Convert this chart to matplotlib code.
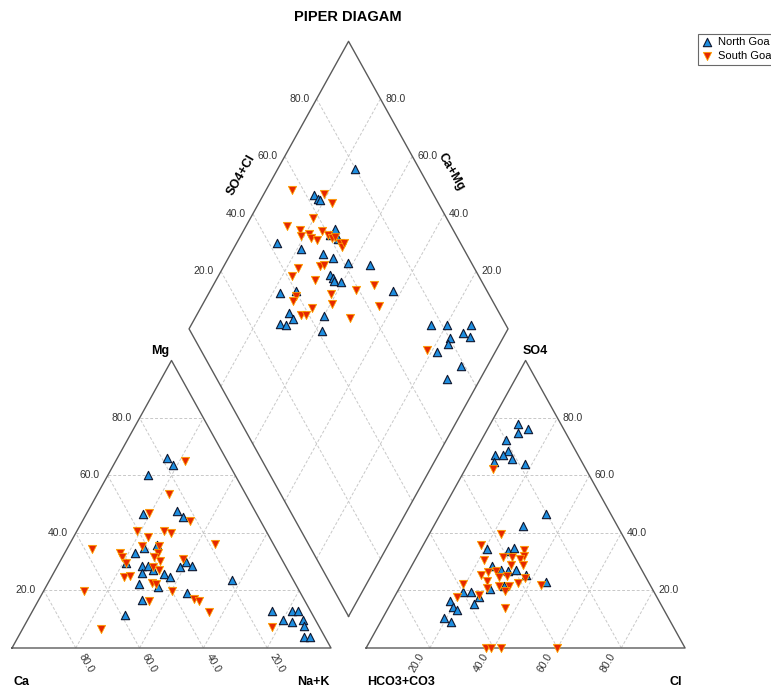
import numpy as np
import matplotlib.pyplot as plt

plt.rcParams['font.family'] = ['Liberation Sans', 'DejaVu Sans']

# cation triangle, % (Ca = 100 - Mg - Na+K)
north_mg = [66.0, 63.7, 60.3, 46.6, 47.7, 45.7, 32.9, 34.8, 35.7, 29.5, 28.5, 28.4, 27.1, 26.1, 25.8, 24.8, 28.1,
            29.9, 28.6, 22.2, 21.3, 16.6, 19.0, 11.5, 23.5, 12.9, 9.7, 12.8, 12.9, 9.0, 9.7, 7.8, 3.8, 3.8]
north_nak = [15.7, 18.7, 12.5, 17.8, 28.0, 30.9, 22.2, 24.0, 27.7, 21.1, 26.6, 28.5, 30.6, 27.6, 34.7, 37.1, 38.5,
             39.6, 42.2, 28.7, 35.2, 32.6, 45.4, 29.8, 57.2, 75.2, 80.1, 81.5, 83.3, 83.3, 86.3, 87.7, 89.6, 91.6]
south_mg = [65.1, 53.5, 47.0, 44.2, 40.8, 38.7, 40.6, 40.0, 34.4, 33.1, 31.5, 29.7, 35.6, 35.5, 32.9, 31.7, 30.3,
            28.3, 27.1, 31.0, 36.1, 24.7, 25.0, 22.7, 22.1, 19.8, 17.1, 16.4, 12.6, 16.2, 19.7, 6.7, 7.2]
south_nak = [21.7, 22.5, 19.4, 33.6, 18.8, 23.2, 27.4, 29.8, 8.0, 17.4, 18.6, 20.9, 22.8, 28.4, 29.4, 28.8, 31.1,
             30.0, 32.6, 38.1, 45.6, 22.9, 24.6, 32.6, 34.2, 40.4, 48.4, 50.4, 55.6, 34.8, 12.8, 24.6, 78.0]

# anion triangle, % (HCO3+CO3 = 100 - SO4 - Cl)
north_so4 = [78.0, 74.8, 76.2, 72.2, 68.6, 67.2, 67.0, 65.7, 63.9, 64.6, 46.7, 42.4, 34.4, 33.9, 34.9, 28.5, 27.1,
             26.9, 27.1, 25.4, 21.7, 20.4, 19.5, 19.5, 17.8, 15.4, 16.2, 14.4, 13.2, 10.3, 9.1, 23.0]
north_cl = [8.6, 10.3, 12.8, 7.8, 10.3, 9.4, 6.9, 13.0, 17.8, 7.7, 33.1, 28.1, 20.8, 27.4, 28.8, 25.1, 28.7,
            30.9, 33.5, 37.5, 32.5, 28.6, 20.5, 23.1, 26.6, 26.2, 18.2, 19.9, 21.8, 19.2, 22.2, 45.0]
south_so4 = [62.3, 39.8, 35.8, 34.2, 32.1, 30.5, 31.5, 31.6, 31.0, 28.8, 28.8, 26.9, 26.4, 25.5, 24.8, 24.9, 23.4,
             21.6, 21.5, 22.5, 24.2, 21.8, 20.9, 19.9, 22.4, 17.7, 18.3, 13.9, 0.0, 0.0, 0.0, 0.0]
south_cl = [8.7, 22.5, 18.1, 32.5, 33.6, 21.6, 27.1, 29.8, 32.6, 30.9, 34.9, 27.4, 24.9, 23.2, 29.4, 31.6, 26.1,
            31.0, 34.2, 36.4, 37.6, 43.9, 27.4, 33.7, 19.1, 19.6, 26.3, 36.6, 37.5, 39.1, 42.3, 60.0]

# diamond, %
north_camg = [75.7, 84.2, 82.1, 81.2, 71.8, 72.2, 69.0, 87.4, 78.8, 71.0, 67.3, 61.6, 54.3, 65.2, 63.7, 62.8, 60.6,
              77.6, 73.1, 42.6, 71.4, 69.2, 72.3, 70.2, 60.0, 57.8, 24.7, 19.8, 12.3, 13.6, 10.4, 16.7, 16.4, 18.2,
              8.4, 10.4]
north_so4cl = [79.8, 62.4, 63.0, 63.5, 63.0, 60.6, 62.2, 42.6, 48.8, 55.2, 57.4, 61.4, 67.8, 53.7, 54.0, 53.7, 55.7,
               34.8, 40.0, 70.4, 34.2, 34.2, 29.5, 31.3, 44.3, 41.3, 76.5, 81.7, 89.0, 85.1, 86.7, 80.0, 78.5, 73.9,
               78.8, 72.1]
south_camg = [21.8, 91.7, 81.1, 77.1, 80.4, 87.2, 82.3, 81.2, 79.0, 77.5, 75.3, 75.4, 72.7, 70.9, 70.2, 67.5, 66.1,
              66.3, 76.6, 77.0, 69.9, 68.8, 68.9, 54.3, 49.6, 61.7, 72.0, 72.4, 59.5, 65.1, 44.3, 67.3, 65.8, 51.5]
south_so4cl = [71.0, 56.5, 65.7, 66.6, 58.3, 48.4, 52.0, 51.2, 54.0, 54.0, 55.7, 58.8, 60.0, 60.6, 61.7, 62.2, 62.3,
               63.7, 44.7, 41.4, 52.0, 53.4, 48.1, 59.1, 65.5, 50.4, 39.3, 37.3, 49.3, 42.1, 63.5, 37.5, 39.0, 52.3]

ticks = [20, 40, 60, 80]

H = np.sqrt(3) / 2
GAP = 0.11
OX = 1 + GAP                      # anion triangle x offset
B = np.array([1 + GAP / 2, GAP * H])   # diamond bottom
L = B + np.array([-0.5, H])
R = B + np.array([0.5, H])
T = B + np.array([0, 2 * H])


def cation_xy(mg, nak):
    mg = np.array(mg) / 100
    nak = np.array(nak) / 100
    return nak + mg / 2, mg * H


def anion_xy(so4, cl):
    so4 = np.array(so4) / 100
    cl = np.array(cl) / 100
    return OX + cl + so4 / 2, so4 * H


def diamond_xy(camg, so4cl):
    c = np.array(camg) / 100
    s = np.array(so4cl) / 100
    p = B + np.outer(c, L - B) + np.outer(s, R - B)
    return p[:, 0], p[:, 1]


fig = plt.figure(figsize=(7.71, 6.9), dpi=100)
ax = fig.add_axes([0, 0, 1, 1])
ax.set_xlim(-12 / 319, 759 / 319)
ax.set_ylim(-42 / 332, 648 / 332)
ax.axis('off')

edge = dict(color='#5a5a5a', lw=1.0, zorder=2)
grid = dict(color='#c8c8c8', lw=0.7, ls=(0, (3, 2)), zorder=1)

# outlines
ax.plot([0, 1, 0.5, 0], [0, 0, H, 0], **edge)
ax.plot([OX, OX + 1, OX + 0.5, OX], [0, 0, H, 0], **edge)
d = np.array([B, R, T, L, B])
ax.plot(d[:, 0], d[:, 1], **edge)

# grids
for t in ticks:
    v = t / 100
    for ox in (0, OX):
        ax.plot([ox + v / 2, ox + 1 - v / 2], [v * H, v * H], **grid)
        ax.plot([ox + v, ox + v + (1 - v) / 2], [0, (1 - v) * H], **grid)
        ax.plot([ox + v, ox + v / 2], [0, v * H], **grid)
    p0 = B + v * (R - B)
    ax.plot([p0[0], p0[0] + (L - B)[0]], [p0[1], p0[1] + (L - B)[1]], **grid)
    p0 = B + v * (L - B)
    ax.plot([p0[0], p0[0] + (R - B)[0]], [p0[1], p0[1] + (R - B)[1]], **grid)

tk = dict(fontsize=7.5, color='#333333', textcoords='offset pixels')
for t in ticks:
    v = t / 100
    s = f'{t:.1f}'
    ax.annotate(s, (v / 2, v * H), xytext=(-8, 0), ha='right', va='center', **tk)
    ax.annotate(s, (1 - v, 0), xytext=(10, -15), ha='center', va='center', rotation=-60, **tk)
    ax.annotate(s, (OX + 1 - v / 2, v * H), xytext=(5, 0), ha='left', va='center', **tk)
    ax.annotate(s, (OX + v, 0), xytext=(-13, -15), ha='center', va='center', rotation=60, **tk)
    pl = L + v * (T - L)
    ax.annotate(s, pl, xytext=(-7, 0), ha='right', va='center', **tk)
    pr = R + v * (T - R)
    ax.annotate(s, pr, xytext=(5, 0), ha='left', va='center', **tk)

lb = dict(fontsize=9, fontweight='bold', textcoords='offset pixels', va='center')
ax.annotate('Mg', (0.5, H), xytext=(-11, 9), ha='center', **lb)
ax.annotate('Ca', (0, 0), xytext=(1, -34), ha='left', **lb)
ax.annotate('Na+K', (1, 0), xytext=(-2, -34), ha='right', **lb)
ax.annotate('SO4', (OX + 0.5, H), xytext=(10, 9), ha='center', **lb)
ax.annotate('HCO3+CO3', (OX, 0), xytext=(1, -34), ha='left', **lb)
ax.annotate('Cl', (OX + 1, 0), xytext=(-3, -34), ha='right', **lb)
ax.annotate('SO4+Cl', L + 0.536 * (T - L), xytext=(-33, 0), ha='center', rotation=60, **lb)
ax.annotate('Ca+Mg', R + 0.547 * (T - R), xytext=(30, 0), ha='center', rotation=-60, **lb)

north_style = dict(marker='^', s=36, c='#1e8ee0', edgecolors='#101830', linewidths=0.8, zorder=3, clip_on=False)
south_style = dict(marker='v', s=36, c='#e62800', edgecolors='#ffa800', linewidths=0.55, zorder=3, clip_on=False)

x1, y1 = cation_xy(north_mg, north_nak)
x2, y2 = anion_xy(north_so4, north_cl)
x3, y3 = diamond_xy(north_camg, north_so4cl)
hn = ax.scatter(np.r_[x1, x2, x3], np.r_[y1, y2, y3], label='North Goa', **north_style)

x1, y1 = cation_xy(south_mg, south_nak)
x2, y2 = anion_xy(south_so4, south_cl)
x3, y3 = diamond_xy(south_camg, south_so4cl)
hs = ax.scatter(np.r_[x1, x2, x3], np.r_[y1, y2, y3], label='South Goa', **south_style)

fig.text(347.5 / 771, 1 - 17 / 690, 'PIPER DIAGAM', ha='center', va='center', fontsize=10.5, fontweight='bold')

leg = ax.legend(handles=[hn, hs], loc='upper left', bbox_to_anchor=(698 / 771, 1 - 34 / 690),
                bbox_transform=fig.transFigure, fontsize=8, frameon=True, fancybox=False,
                handlelength=1.0, handletextpad=0.5, borderpad=0.3, labelspacing=0.35, borderaxespad=0)
leg.get_frame().set_edgecolor('#444444')
leg.get_frame().set_linewidth(0.8)

fig.savefig('out.png', dpi=100)
